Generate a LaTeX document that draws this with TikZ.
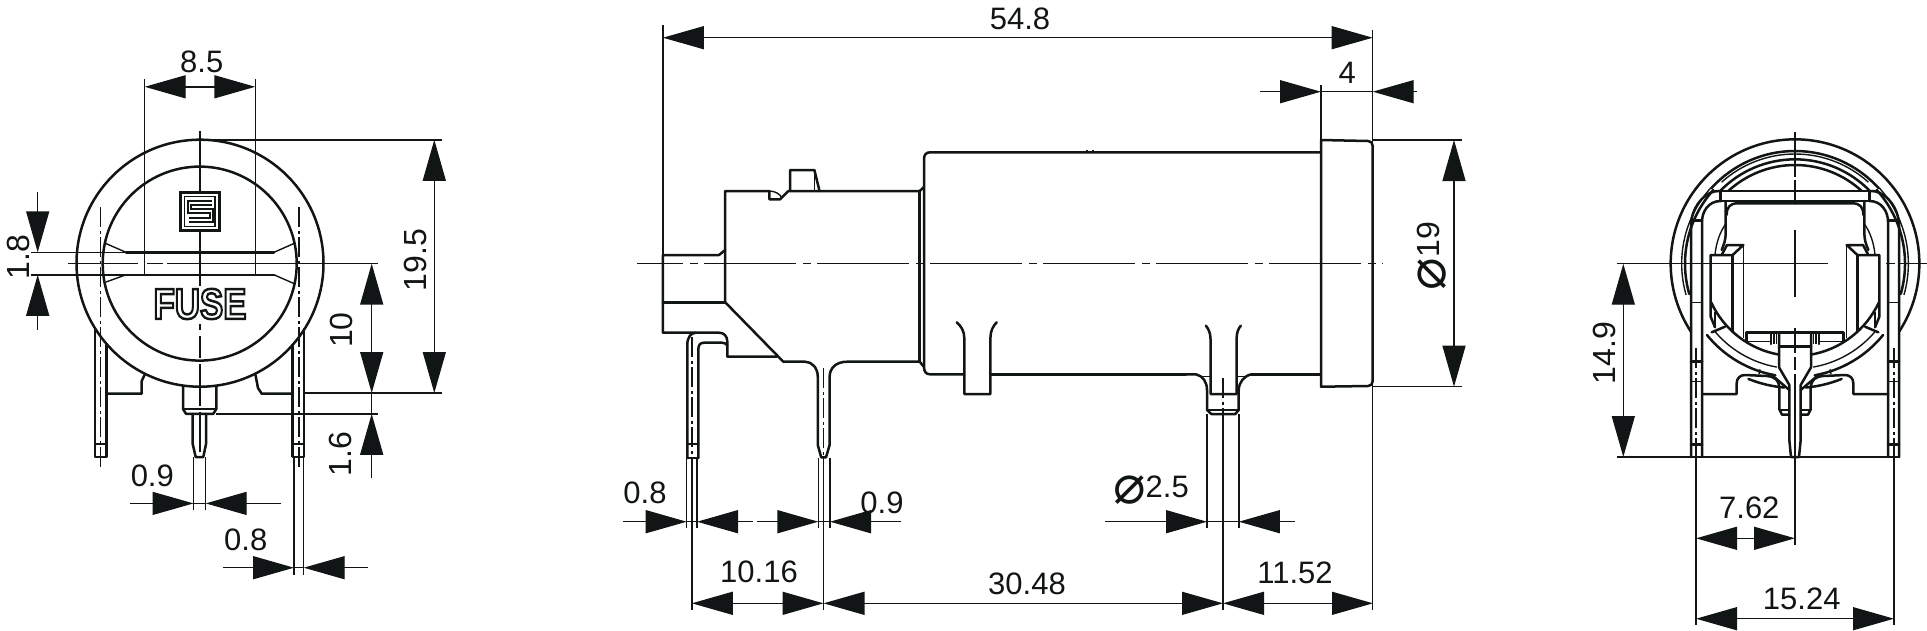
\documentclass[tikz,border=0pt]{standalone}
\usepackage{fontspec}
\setmainfont{Liberation Sans}
\newfontfamily\dvsans{DejaVu Sans}
\usetikzlibrary{arrows.meta}
\definecolor{ink}{HTML}{111515}
\tikzset{
  heavy/.style={line width=2.5pt,draw=ink,line cap=round,line join=round},
  fine/.style={line width=1.4pt,draw=ink},
  Tr/.tip={Triangle[length=41pt,width=23pt,fill=ink,color=ink]},
  twodim/.style={fine,{Tr}-{Tr}},
  enddim/.style={fine,-{Tr}},
  lbl/.style={inner sep=0pt,font=\fontsize{31}{36}\selectfont,text=ink},
  vlbl/.style={inner sep=0pt,rotate=90,font=\fontsize{32}{36}\selectfont,text=ink},
  cdash/.style={fine,dash pattern=on 60pt off 6pt on 8pt off 6pt},
  pdash/.style={fine,dash pattern=on 20pt off 3.5pt on 3pt off 3.5pt}
}
\newcommand{\rarc}[4][heavy]{\draw[#1] (645,431) ++(#3:#2) arc[start angle=#3,end angle=#4,radius=#2];}
\newcommand{\phimark}{\raisebox{-6pt}{\dvsans\fontsize{54}{54}\selectfont ⌀}}
\newcommand{\rhalf}{%
  % rings
  \rarc[heavy]{373}{270}{147}\rarc[heavy]{373}{95}{112}
  \rarc[heavy]{338}{222}{270}\rarc[fine]{329}{228}{270}
  \rarc[heavy]{313}{224}{270}\rarc[heavy]{296}{227.4}{270}
  \rarc[fine]{340}{164}{222}\rarc[heavy]{330}{164}{222}
  \rarc[heavy]{277}{100}{155}\rarc[fine]{315}{100}{140.5}\rarc[heavy]{340}{100}{141}
  \draw[heavy] (395,637)--(435,620);
  \draw[fine] (540,748)--(537,762);
  % outer frame and pin
  \draw[heavy] (333,1011)--(333,315) .. controls (333,270) and (365,222) .. (405,214)--(422,213);
  \draw[heavy] (366,1011)--(366,305) .. controls (366,275) and (385,243) .. (422,243);
  \draw[heavy] (333,302)--(366,302);
  \draw[fine] (335,548)--(366,548);
  \draw[heavy] (333,725)--(366,725);\draw[fine] (333,785)--(366,785);
  \draw[heavy] (333,973)--(366,973);
  \draw[pdash] (348,685)--(348,1011);
  % column and block
  \draw[heavy] (437,243)--(437,340) .. controls (437,360) and (432,372) .. (425,390);
  \draw[fine] (437,312) .. controls (420,335) and (408,370) .. (405,405);
  \draw[heavy] (441,375)--(490,375)--(458,405)--(392,405)--(392,590)--(405,622);
  \draw[heavy] (425,405)--(441,375);
  \draw[heavy] (458,405)--(458,635);
  \draw[fine] (490,375)--(490,655);
  \draw[fine] (405,575)--(405,625);
  % inner box top
  \draw[heavy] (440,285) .. controls (440,262) and (450,250) .. (472,250)--(645,250);
  % platform
  \draw[heavy] (500,665)--(500,637)--(645,637);
  \draw[fine] (500,665)--(573,665);
  \draw[heavy] (573,637)--(573,672);\draw[fine] (582,637)--(582,672);\draw[fine] (590,637)--(590,672);
  % stem and pin
  \draw[heavy] (597,637)--(597,742)--(628,795)--(628,960)--(633,1011)--(645,1011);
  \draw[heavy] (597,680)--(645,680);
  % base and foot
  \draw[heavy] (366,822)--(470,822)--(470,790) .. controls (470,775) and (480,765) .. (495,765)--(560,768) .. controls (585,770) and (595,780) .. (598,800)--(598,868)--(606,884)--(628,884);
  \draw[fine] (598,870)--(628,870);
  \draw[heavy] (575,765)--(628,810);
}
\begin{document}
\begin{tikzpicture}[x=1pt,y=-1pt]
\useasboundingbox (0,0) rectangle (1927,630);
%%%%%%%%%%%%%%% LEFT VIEW
\draw[heavy] (200,263.2) circle[radius=123.5];
\draw[heavy] (199.7,263.6) circle[radius=97];
\draw[heavy] (126,252.3)--(274,252.3);
\draw[heavy] (126,274.8)--(274,274.8);
\draw[fine] (126,252.3)--(104.7,243) (126,274.8)--(106,282) (274,252.3)--(295,243) (274,274.8)--(295,284);
\draw[fine] (126,252.3)--(30.7,252.3) (126,274.8)--(30.7,274.8);
\draw[fine] (200,131)--(200,191) (200,232)--(200,286) (200,324)--(200,330) (200,336)--(200,358) (200,364)--(200,406) (200,412)--(200,452);
\draw[fine] (68,263.6)--(100,263.6) (104,263.6)--(138,263.6) (147,263.6)--(163,263.6) (167,263.6)--(378,263.6);
% logo
\draw[line width=3pt,draw=ink] (180.5,192.3) rectangle (219,230.7);
\draw[line width=1.6pt,draw=ink] (184.5,196.5) rectangle (215,226.5);
\draw[line width=5.4pt,draw=ink,miter limit=5] (212,202.8)--(189.5,202.8)--(189.5,211)--(211.5,211)--(211.5,220)--(189,220);
\draw[line width=1.4pt,draw=white,miter limit=5] (212,202.8)--(189.5,202.8)--(189.5,211)--(211.5,211)--(211.5,220)--(189,220);
% FUSE
\node[inner sep=0pt,xscale=.81,text=ink,font=\fontsize{43}{43}\selectfont\bfseries] (fuse) at (200,304) {\special{pdf:code q 1 Tr 2.5 w}FUSE\special{pdf:code Q}};
% pins
\draw[heavy] (95,329)--(95,457)--(106.7,457)--(106.7,344);
\draw[heavy] (95,444)--(106.7,444);
\draw[pdash] (100.7,207)--(100.7,470);
\draw[line width=3.4pt,draw=ink] (292.7,344)--(292.7,457);
\draw[heavy] (304,329)--(304,457)--(292.7,457);
\draw[heavy] (292.7,444)--(304,444);
\draw[pdash] (299,207)--(299,470);
\draw[heavy] (106.7,393.7)--(141.7,393.7)--(141.7,381)--(144.5,375);
\draw[heavy] (255.5,375)--(258,388)--(261.7,393.7)--(291.7,393.7);
\draw[heavy] (183,386)--(183,409)--(186,413.8)--(213.3,413.8)--(216.3,409)--(216.3,386);
\draw[fine] (183,409)--(216.3,409);
\draw[heavy] (192.7,413.8)--(192.7,444)--(195.7,457)--(203.3,457)--(206,444)--(206,413.8);
% extension lines
\draw[fine] (144.7,79.1)--(144.7,252.3) (255.3,79.1)--(255.3,252.3) (144.7,252.3)--(144.7,274.8) (255.3,252.3)--(255.3,274.8);
\draw[fine] (200,139.8)--(441.7,139.8) (304,393)--(441.7,393) (216,413.8)--(378,413.8);
\draw[fine] (193.5,457)--(193.5,510) (205.7,457)--(205.7,510) (294,457)--(294,574.5) (303.7,457)--(303.7,574.5);
% dimensions
\coordinate (a1) at (144.7,86.8);\coordinate (a2) at (255.3,86.8);
\draw[twodim] (a1)--(a2);
\node[lbl] (t85) at (201.7,61.5) {8.5};
\coordinate (b1) at (37.7,192);\coordinate (b2) at (37.7,252.3);\coordinate (b3) at (37.7,330);\coordinate (b4) at (37.7,274.8);
\draw[enddim] (b1)--(b2);\draw[enddim] (b3)--(b4);
\node[vlbl] (t18) at (18.7,257) {1.8};
\coordinate (c1) at (434.3,139.8);\coordinate (c2) at (434.3,393);
\draw[twodim] (c1)--(c2);
\node[vlbl] (t195) at (415,260) {19.5};
\coordinate (d1) at (371.7,263.6);\coordinate (d2) at (371.7,393);\coordinate (d3) at (371.7,478);\coordinate (d4) at (371.7,413.8);
\draw[twodim] (d1)--(d2);\draw[enddim] (d3)--(d4);\draw[fine] (d2)--(d4);
\node[vlbl] (t10) at (341.7,330) {10};
\node[vlbl] (t16) at (340,454) {1.6};
\coordinate (e1) at (130,503.4);\coordinate (e2) at (193.5,503.4);\coordinate (e3) at (281,503.4);\coordinate (e4) at (205.7,503.4);
\draw[enddim] (e1)--(e2);\draw[enddim] (e3)--(e4);\draw[fine] (e2)--(e4);
\node[lbl] (t09) at (152.3,476) {0.9};
\coordinate (f1) at (223.3,567.7);\coordinate (f2) at (294,567.7);\coordinate (f3) at (368.3,567.7);\coordinate (f4) at (303.7,567.7);
\draw[enddim] (f1)--(f2);\draw[enddim] (f3)--(f4);\draw[fine] (f2)--(f4);
\node[lbl] (t08) at (245.7,540) {0.8};
%%%%%%%%%%%%%%% CENTER VIEW
\draw[fine,dash pattern=on 92pt off 7pt on 8pt off 6pt,dash phase=45.4pt] (636.8,263.7)--(1383,263.7);
% collar
\draw[heavy] (719,255)--(662.9,255)--(662.9,332.7)--(719,332.7) .. controls (724,332.7) and (727.3,336) .. (727.3,341.7)--(727.3,356.7)--(776.6,356.7);
\draw[heavy] (719,255)--(725.2,250);
\draw[heavy] (662.9,302.3)--(725.2,302.3);
% main block
\draw[heavy] (725.2,302.3)--(725.2,191)--(769.4,191)--(769.4,199.3)--(780,199.3)--(788.3,191)--(919.7,191)--(924,187);
\draw[fine] (769.4,191) .. controls (775,191) and (780,194) .. (782,198);
\draw[heavy] (790,191)--(790,170)--(814.4,170)--(819.5,191);
\draw[fine] (814.4,170)--(814.4,191);
\draw[heavy] (725.2,302.3)--(783.3,361.7)--(805,361.7) .. controls (812,361.7) and (817.8,368) .. (817.8,377)--(817.8,445)--(821.2,457.3)--(826,457.3)--(829.6,445)--(829.6,377) .. controls (829.6,368) and (836,361.7) .. (847.3,361.7)--(919.7,361.7)--(924,367);
\draw[heavy] (919.7,191)--(919.7,361.7);
% barrel
\draw[heavy] (1320,152.3)--(930,152.3) .. controls (926,152.3) and (924,155) .. (924,159)--(924,367) .. controls (924,371.5) and (926,374.3) .. (930,374.3)--(963,374.3);
\draw[heavy] (990.4,374.3)--(1186,374.3);
\draw[heavy] (1251.3,374.3)--(1320,374.3);
\draw[fine] (1087,150)--(1087,152) (1093,150)--(1093,152);
% slot 1
\draw[heavy] (956.7,322.3) .. controls (961,326) and (964.3,331) .. (964.3,338)--(964.3,394)--(990.4,394)--(990.4,338) .. controls (990.4,331) and (993,326) .. (996.7,322.3);
% slot 2 and foot
\draw[heavy] (1205.9,325.7) .. controls (1208.5,329) and (1210.5,333) .. (1210.5,339)--(1210.5,394)--(1236.6,394)--(1236.6,339) .. controls (1236.6,333) and (1238,329) .. (1240.8,325.7);
\draw[heavy] (1186,374.3)--(1196,374.3) .. controls (1203,376) and (1207,382) .. (1207,390)--(1207,410)--(1211.3,414)--(1235.3,414)--(1238.7,410)--(1238.7,390) .. controls (1239,382) and (1244,376) .. (1251.3,374.3);
\draw[fine] (1207,410)--(1238.7,410);
\draw[fine] (1199,376.5)--(1210,376.5) (1236.6,376.5)--(1248,376.5);
% flange
\draw[heavy] (1321,140)--(1368,141) .. controls (1371,141) and (1372.7,143) .. (1372.7,146)--(1372.7,381) .. controls (1372.7,384) and (1371,386) .. (1368,386)--(1321,386.7)--cycle;
% left pin
\draw[heavy] (687.3,458)--(687.3,345) .. controls (687.3,337) and (691,332.7) .. (696,332.7);
\draw[heavy] (698.3,458)--(698.3,350) .. controls (698.3,345) and (700,342.7) .. (704,342.7)--(722,342.7) .. controls (725,342.7) and (727.3,344) .. (727.3,346);
\draw[heavy] (687.3,444)--(698.3,444);\draw[heavy] (687.3,458)--(698.3,458);
\draw[pdash] (692,337)--(692,458);
\draw[pdash] (823.7,368)--(823.7,458);
\draw[pdash] (1223,378)--(1223,414);
% ext
\draw[fine] (662.9,25)--(662.9,255) (1372.7,30)--(1372.7,610) (1321,85)--(1321,140);
\draw[fine] (1372.7,140)--(1461.7,140) (1372.7,386.7)--(1461.7,386.7);
\draw[fine] (686.7,458)--(686.7,528) (697,458)--(697,528) (691.8,458)--(691.8,610);
\draw[fine] (818.4,458)--(818.4,528) (830,458)--(830,528) (823.5,458)--(823.5,610);
\draw[fine] (1207,414)--(1207,528) (1238.8,414)--(1238.8,528) (1223,414)--(1223,610);
% dims
\coordinate (g1) at (662.9,37.7);\coordinate (g2) at (1372.7,37.7);
\draw[twodim] (g1)--(g2);
\node[lbl] (t548) at (1020,18.5) {54.8};
\coordinate (h1) at (1260,91.7);\coordinate (h2) at (1321,91.7);\coordinate (h3) at (1417,91.7);\coordinate (h4) at (1372.7,91.7);
\draw[enddim] (h1)--(h2);\draw[enddim] (h3)--(h4);\draw[fine] (h2)--(h4);
\node[lbl] (t4) at (1347.3,73) {4};
\coordinate (i1) at (1454,140);\coordinate (i2) at (1454,386.7);
\draw[twodim] (i1)--(i2);
\node[vlbl] (t19) at (1431.7,256) {\phimark 19};
\coordinate (j1) at (623,521.7);\coordinate (j2) at (686.7,521.7);\coordinate (j3) at (753,521.7);\coordinate (j4) at (697,521.7);
\draw[enddim] (j1)--(j2);\draw[enddim] (j3)--(j4);\draw[fine] (j2)--(j4);
\node[lbl] (t08b) at (645,493.3) {0.8};
\coordinate (k1) at (757,521.7);\coordinate (k2) at (818.4,521.7);\coordinate (k3) at (901,521.7);\coordinate (k4) at (830,521.7);
\draw[enddim] (k1)--(k2);\draw[enddim] (k3)--(k4);\draw[fine] (k2)--(k4);
\node[lbl] (t09b) at (882,503) {0.9};
\coordinate (l1) at (1105,521.7);\coordinate (l2) at (1207,521.7);\coordinate (l3) at (1295,521.7);\coordinate (l4) at (1238.8,521.7);
\draw[enddim] (l1)--(l2);\draw[enddim] (l3)--(l4);\draw[fine] (l2)--(l4);
\node[lbl] (t25) at (1151,490) {\phimark 2.5};
\coordinate (m1) at (691.8,603.3);\coordinate (m2) at (823.5,603.3);\coordinate (m3) at (1223,603.3);\coordinate (m4) at (1373,603.3);
\draw[twodim] (m1)--(m2);\draw[twodim] (m2)--(m3);\draw[twodim] (m3)--(m4);
\node[lbl] (t1016) at (759,571.7) {10.16};
\node[lbl] (t3048) at (1027,584) {30.48};
\node[lbl] (t1152) at (1295,573) {11.52};
%%%%%%%%%%%%%%% RIGHT VIEW
\begin{scope}[shift={(1580,120)},x=.33333pt,y=-.33333pt]
  \rhalf
  \draw[heavy] (422,213) rectangle (868,243);
  \draw[fine] (645,35)--(645,170) (645,180)--(645,240) (645,330)--(645,530) (645,625)--(645,700) (645,712)--(645,750) (645,762)--(645,1011);
\end{scope}
\begin{scope}[shift={(2010,120)},xscale=-1,x=.33333pt,y=-.33333pt]
  \rhalf
\end{scope}
\draw[fine] (1616.7,263.7)--(1828,263.7) (1886,263.7)--(1895,263.7) (1898,263.7)--(1926.7,263.7);
\draw[fine] (1616.7,457)--(1900,457);
\draw[fine] (1696,457)--(1696,625) (1795,457)--(1795,545) (1894,457)--(1894,625);
\coordinate (n1) at (1623.3,263.7);\coordinate (n2) at (1623.3,457);
\draw[twodim] (n1)--(n2);
\node[vlbl] (t149) at (1604,353) {14.9};
\coordinate (o1) at (1696,538.3);\coordinate (o2) at (1795,538.3);
\draw[twodim] (o1)--(o2);
\node[lbl] (t762) at (1749.3,508) {7.62};
\coordinate (p1) at (1696,618.7);\coordinate (p2) at (1894,618.7);
\draw[twodim] (p1)--(p2);
\node[lbl] (t1524) at (1801.7,599.3) {15.24};
\end{tikzpicture}
\end{document}
